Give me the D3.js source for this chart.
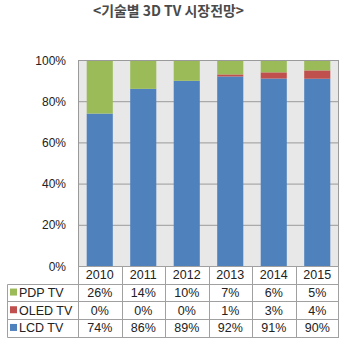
<!DOCTYPE html>
<html><head><meta charset="utf-8">
<script src="https://cdn.jsdelivr.net/npm/d3@7"></script>
<style>body{margin:0;background:#fff}svg{display:block}</style>
</head><body>
<script>
const years = ["2010","2011","2012","2013","2014","2015"];
const seriesNames = ["PDP TV","OLED TV","LCD TV"];
const lcd = [74,86,89,92,91,90];
const oled = [0,0,0,1,3,4];
const pdp = [26,14,10,7,6,5];
const yTicks = [0,20,40,60,80,100];
const colors = {"LCD TV":"#4f81bd","OLED TV":"#c0504d","PDP TV":"#9bbb59"};
const title = "<기술별 3D TV 시장전망>";

const W=352,H=344;
const svg=d3.select("body").append("svg").attr("width",W).attr("height",H);
const font="Arial, 'Liberation Sans', sans-serif";

svg.append("text").attr("x",93).attr("y",15.5)
  .attr("textLength",151).attr("lengthAdjust","spacingAndGlyphs")
  .attr("font-family","'Noto Sans CJK KR', sans-serif").attr("font-size",14).attr("font-weight","bold")
  .attr("fill","#4a4a4a").text(title);

const L=78,R=339,T=60,B=266;
const x=d3.scaleBand().domain(years).range([L,R]).paddingInner(0.4).paddingOuter(0.2);
const xc=d3.scaleBand().domain(years).range([L,R]);
const y=d3.scaleLinear().domain([0,1]).range([B,T]);
const yt=d3.scaleLinear().domain([0,100]).range([B,T]);

svg.append("rect").attr("x",L).attr("y",T).attr("width",R-L).attr("height",B-T).attr("fill","#e8e8e8");
svg.append("g").selectAll("line").data(yTicks).join("line")
  .attr("x1",L).attr("x2",R).attr("y1",d=>yt(d)+0.5).attr("y2",d=>yt(d)+0.5).attr("stroke","#9a9a9a").attr("stroke-width",1);

const data=years.map((yr,i)=>({year:yr,"LCD TV":lcd[i],"OLED TV":oled[i],"PDP TV":pdp[i]}));
const stack=d3.stack().keys(["LCD TV","OLED TV","PDP TV"]).offset(d3.stackOffsetExpand)(data);
svg.append("g").selectAll("g").data(stack).join("g").attr("fill",d=>colors[d.key])
  .selectAll("rect").data(d=>d).join("rect")
  .attr("x",d=>x(d.data.year)).attr("width",x.bandwidth())
  .attr("y",d=>y(d[1])).attr("height",d=>Math.max(0,y(d[0])-y(d[1])));

svg.append("rect").attr("x",L+0.5).attr("y",T+0.5).attr("width",R-L-1).attr("height",B-T).attr("fill","none").attr("stroke","#9a9a9a");

svg.append("g").selectAll("text").data(yTicks).join("text")
  .attr("x",66).attr("y",d=>yt(d)+4.5).attr("text-anchor","end")
  .attr("font-family",font).attr("font-size",12).attr("fill","#222").text(d=>d+"%");

// table
const rowH=17.7;
const rows=[{name:"PDP TV",vals:pdp},{name:"OLED TV",vals:oled},{name:"LCD TV",vals:lcd}];
const tg=svg.append("g").attr("stroke","#a0a0a0").attr("stroke-width",1).attr("fill","none");
const legL=7.5;
const yLines=[0,1,2,3,4].map(i=>B+i*rowH);
yLines.forEach((yy,i)=>{
  tg.append("line").attr("x1",i===0?L:legL).attr("x2",R).attr("y1",Math.round(yy)+0.5).attr("y2",Math.round(yy)+0.5);
});
years.forEach((yr,i)=>{
  const xx=Math.round(xc(yr))+0.5;
  tg.append("line").attr("x1",xx).attr("x2",xx).attr("y1",B).attr("y2",Math.round(yLines[4])+0.5);
});
tg.append("line").attr("x1",R-0.5).attr("x2",R-0.5).attr("y1",B).attr("y2",Math.round(yLines[4])+0.5);
tg.append("line").attr("x1",legL).attr("x2",legL).attr("y1",Math.round(yLines[1])+0.5).attr("y2",Math.round(yLines[4])+0.5);

svg.append("g").selectAll("text").data(years).join("text")
  .attr("x",d=>xc(d)+xc.bandwidth()/2).attr("y",B+rowH/2+4.5).attr("text-anchor","middle")
  .attr("font-family",font).attr("font-size",12.5).attr("fill","#222").text(d=>d);

rows.forEach((r,ri)=>{
  const cy=B+(ri+1)*rowH+rowH/2;
  svg.append("rect").attr("x",10).attr("y",cy-4).attr("width",7).attr("height",7).attr("fill",colors[r.name]);
  svg.append("text").attr("x",19).attr("y",cy+4.5).attr("font-family",font).attr("font-size",12.5).attr("fill","#222").text(r.name);
  svg.append("g").selectAll("text").data(r.vals).join("text")
    .attr("x",(d,i)=>xc(years[i])+xc.bandwidth()/2).attr("y",cy+4.5).attr("text-anchor","middle")
    .attr("font-family",font).attr("font-size",12.5).attr("fill","#222").text(d=>d+"%");
});
</script>
</body></html>
